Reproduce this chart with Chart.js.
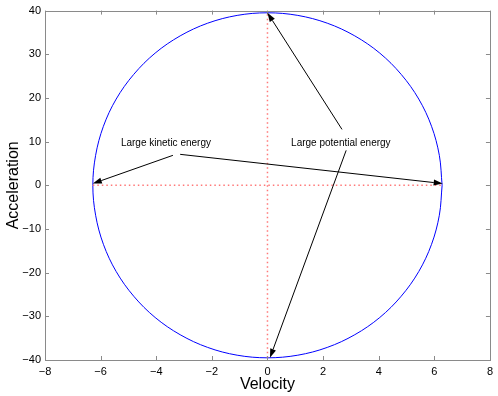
<!DOCTYPE html>
<html>
<head>
<meta charset="UTF-8">
<title>Velocity vs Acceleration</title>
<script src="https://cdn.jsdelivr.net/npm/chart.js"></script>
<style>
  html, body { margin: 0; padding: 0; background: #fff; }
  #wrap { width: 498px; height: 396px; position: relative; }
</style>
</head>
<body>
<div id="wrap"><canvas id="phase"></canvas></div>
<script>
// phase portrait points, every 10 degrees
const velocity = [6.28, 6.18, 5.90, 5.44, 4.81, 4.04, 3.14, 2.15, 1.09, 0,
  -1.09, -2.15, -3.14, -4.04, -4.81, -5.44, -5.90, -6.18, -6.28,
  -6.18, -5.90, -5.44, -4.81, -4.04, -3.14, -2.15, -1.09, 0,
  1.09, 2.15, 3.14, 4.04, 4.81, 5.44, 5.90, 6.18, 6.28];
const acceleration = [0, 6.86, 13.51, 19.75, 25.39, 30.26, 34.21, 37.12, 38.90, 39.5,
  38.90, 37.12, 34.21, 30.26, 25.39, 19.75, 13.51, 6.86, 0,
  -6.86, -13.51, -19.75, -25.39, -30.26, -34.21, -37.12, -38.90, -39.5,
  -38.90, -37.12, -34.21, -30.26, -25.39, -19.75, -13.51, -6.86, 0];

const xTicks = [-8, -6, -4, -2, 0, 2, 4, 6, 8];
const yTicks = [-40, -30, -20, -10, 0, 10, 20, 30, 40];

// dotted guide lines through the origin
const hGuideX = [-6.28, 6.28];
const hGuideY = [0, 0];
const vGuideX = [0, 0];
const vGuideY = [-39.5, 39.5];

const noteText = ['Large kinetic energy', 'Large potential energy'];
const noteX = [-5.27, 0.85];
const noteY = [9.6, 9.6];

// arrows: start -> tip, in data units
const arrowFromX = [-3.40, -3.14, 2.68, 2.83];
const arrowFromY = [6.86, 7.09, 12.8, 8.0];
const arrowToX = [-6.28, 6.30, 0.0, 0.09];
const arrowToY = [0.4, 0.4, 39.5, -39.5];

const pts = (xs, ys) => xs.map((v, i) => ({ x: v, y: ys[i] }));

const frame = {
  id: 'frame',
  afterDatasetsDraw(chart) {
    const { ctx, chartArea: a, scales: { x, y } } = chart;
    ctx.save();
    ctx.strokeStyle = '#8a8a8a';
    ctx.lineWidth = 1;
    ctx.strokeRect(Math.round(a.left) + 0.5, Math.round(a.top) + 0.5,
      Math.round(a.right - a.left), Math.round(a.bottom - a.top));
    ctx.beginPath();
    xTicks.forEach(v => {
      const px = Math.round(x.getPixelForValue(v)) + 0.5;
      ctx.moveTo(px, a.bottom); ctx.lineTo(px, a.bottom - 4);
      ctx.moveTo(px, a.top); ctx.lineTo(px, a.top + 4);
    });
    yTicks.forEach(v => {
      const py = Math.round(y.getPixelForValue(v)) + 0.5;
      ctx.moveTo(a.left, py); ctx.lineTo(a.left + 4, py);
      ctx.moveTo(a.right, py); ctx.lineTo(a.right - 4, py);
    });
    ctx.stroke();
    ctx.restore();
  }
};

const notes = {
  id: 'notes',
  afterDatasetsDraw(chart) {
    const { ctx, scales: { x, y } } = chart;
    ctx.save();
    ctx.strokeStyle = '#000';
    ctx.fillStyle = '#000';
    ctx.lineWidth = 1;
    arrowFromX.forEach((fx, i) => {
      const x0 = x.getPixelForValue(fx), y0 = y.getPixelForValue(arrowFromY[i]);
      const x1 = x.getPixelForValue(arrowToX[i]), y1 = y.getPixelForValue(arrowToY[i]);
      const ang = Math.atan2(y1 - y0, x1 - x0);
      const len = 9, half = 3;
      const bx = x1 - len * Math.cos(ang), by = y1 - len * Math.sin(ang);
      ctx.beginPath();
      ctx.moveTo(x0, y0);
      ctx.lineTo(bx, by);
      ctx.stroke();
      ctx.beginPath();
      ctx.moveTo(x1, y1);
      ctx.lineTo(bx - half * Math.sin(ang), by + half * Math.cos(ang));
      ctx.lineTo(bx + half * Math.sin(ang), by - half * Math.cos(ang));
      ctx.closePath();
      ctx.fill();
    });
    ctx.font = '10px "Liberation Sans", Arial, sans-serif';
    ctx.textBaseline = 'middle';
    ctx.textAlign = 'left';
    noteText.forEach((t, i) => {
      ctx.fillText(t, x.getPixelForValue(noteX[i]), y.getPixelForValue(noteY[i]));
    });
    ctx.restore();
  }
};

const tickFont = { family: '"Liberation Sans", Arial, sans-serif', size: 11 };
const titleFont = { family: '"Liberation Sans", Arial, sans-serif', size: 16 };

new Chart(document.getElementById('phase'), {
  type: 'scatter',
  data: {
    datasets: [
      {
        data: pts(hGuideX, hGuideY),
        showLine: true, pointRadius: 0,
        borderColor: 'rgb(255, 120, 120)', backgroundColor: 'rgb(255, 120, 120)',
        borderWidth: 1.5, borderDash: [1.5, 3]
      },
      {
        data: pts(vGuideX, vGuideY),
        showLine: true, pointRadius: 0,
        borderColor: 'rgb(255, 120, 120)', backgroundColor: 'rgb(255, 120, 120)',
        borderWidth: 1.5, borderDash: [1.5, 3]
      },
      {
        data: pts(velocity, acceleration),
        showLine: true, pointRadius: 0, tension: 0.35,
        borderColor: '#0000ff', borderWidth: 1
      }
    ]
  },
  options: {
    responsive: true,
    maintainAspectRatio: false,
    animation: false,
    layout: { padding: { top: 10, right: 8, left: 0, bottom: 0 } },
    plugins: { legend: { display: false }, tooltip: { enabled: false } },
    scales: {
      x: {
        type: 'linear', min: -8, max: 8,
        afterBuildTicks: s => { s.ticks = xTicks.map(v => ({ value: v })); },
        afterFit: s => { s.height = 36; },
        grid: { display: false, drawTicks: false },
        border: { display: false },
        ticks: { color: '#000', font: tickFont, padding: 5,
          callback: v => String(v).replace('-', '\u2212') },
        title: { display: true, text: 'Velocity', color: '#000', font: titleFont,
          padding: { top: 0, bottom: 2 } }
      },
      y: {
        type: 'linear', min: -40, max: 40,
        afterBuildTicks: s => { s.ticks = yTicks.map(v => ({ value: v })); },
        afterFit: s => { s.width = 45; },
        grid: { display: false, drawTicks: false },
        border: { display: false },
        ticks: { color: '#000', font: tickFont, padding: 4,
          callback: v => String(v).replace('-', '\u2212') },
        title: { display: true, text: 'Acceleration', color: '#000', font: titleFont,
          padding: { top: 4, bottom: 0 } }
      }
    }
  },
  plugins: [frame, notes]
});
</script>
</body>
</html>
